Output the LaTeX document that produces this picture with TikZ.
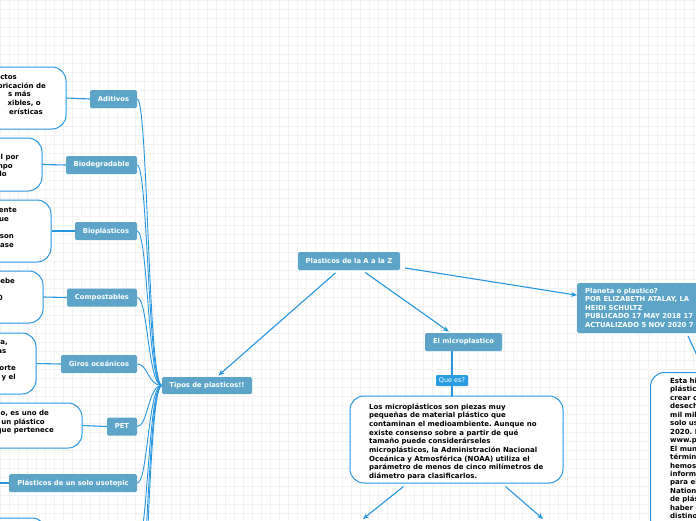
\documentclass[tikz,border=0pt]{standalone}
\usepackage{fontspec}
\setmainfont{DejaVu Sans}
\usetikzlibrary{arrows.meta}
\definecolor{MMBox}{HTML}{5DA5C8}
\definecolor{MMLine}{HTML}{2696E0}
\definecolor{MMTag}{HTML}{2A9DE2}
\definecolor{MMGrid}{HTML}{F2F2F2}
\frenchspacing
\begin{document}
\begin{tikzpicture}[x=1pt,y=-1pt,
  every node/.style={font=\bfseries\fontsize{7}{8.7}\selectfont},
  topic/.style={fill=MMBox,text=white,rounded corners=1.5pt,minimum height=18pt,inner sep=0pt,
    font=\bfseries\fontsize{6.8}{8.5}\selectfont},
  note/.style={draw=MMLine,line width=1pt,fill=white,rounded corners=14pt,inner sep=0pt},
  frag/.style={anchor=base east,inner sep=0pt},
  link/.style={MMLine,line width=1.1pt},
  arr/.style={link,-{Stealth[length=6pt,width=5pt]}},
  spine/.style={MMLine,line width=.9pt}]
\path[use as bounding box] (0,0) rectangle (696,520);
\clip (0,0) rectangle (696,520);
\fill[white] (0,0) rectangle (696,520);
\draw[MMGrid,step=9pt] (0,0) grid (696,520);
% main topics
\node[topic,minimum width=102pt] (root) at (349,261) {Plasticos de la A a la Z};
\node[topic,minimum width=90pt,minimum height=17pt] (tipos) at (207,385.5) {Tipos de plasticos!!};
\node[topic,minimum width=77pt] (micro) at (463.5,342) {El microplastico};
\node[topic,minimum width=190pt,minimum height=50pt,anchor=north west] (planeta) at (577,283) {};
\node[anchor=north west,inner sep=0pt,align=left,text=white,font=\bfseries\fontsize{6.8}{8.5}\selectfont] (planeta-t) at (585,288)
  {Planeta o plastico?\\POR ELIZABETH ATALAY, LA\\HEIDI SCHULTZ\\PUBLICADO 17 MAY 2018 17\\ACTUALIZADO 5 NOV 2020 7};
% microplastic note
\node[note,minimum width=213pt,minimum height=87pt] (mdesc) at (456.5,439.5) {};
\node[anchor=north west,inner sep=0pt,align=left] (mdesc-t) at (369,403.2)
  {Los microplásticos son piezas muy\\pequeñas de material plástico que\\contaminan el medioambiente. Aunque no\\existe consenso sobre a partir de qué\\tamaño puede considerárseles\\microplásticos, la Administración Nacional\\Oceánica y Atmosférica (NOAA) utiliza el\\parámetro de menos de cinco milímetros de\\diámetro para clasificarlos.};
\coordinate (qx) at (452,0);
\draw[link] (micro.south -| qx) -- (mdesc.north -| qx);
\node[fill=MMTag,text=white,rounded corners=1pt,inner sep=0pt,minimum width=32pt,minimum height=11pt,font=\fontsize{6.5}{8}\selectfont] (quees) at (452,380.5) {Que es?};
\coordinate (mleft) at (363,519);
\coordinate (mright) at (543,519);
\draw[arr] ([shift={(-53,3)}]mdesc.south) -- (mleft);
\draw[arr] ([shift={(49,3)}]mdesc.south) -- (mright);
% right note
\node[note,minimum width=120pt,minimum height=240pt,anchor=north west] (esta) at (650,372) {};
\node[anchor=north west,inner sep=0pt,align=left,font=\bfseries\fontsize{7}{8.45}\selectfont] (esta-t) at (670,378)
  {Esta hi\\plástic\\crear c\\desech\\mil mil\\solo us\\2020. I\\www.p\\El mun\\términ\\hemos\\inform\\para el\\Nation\\de plás\\haber c\\distino};
\coordinate (pl-out) at (688,336);
\coordinate (esta-in) at (700,362);
\draw[link] (pl-out) -- (esta-in);
% arrows from root
\draw[arr,shorten <=4pt,shorten >=2pt] (root) -- (tipos);
\draw[arr,shorten <=4pt,shorten >=2pt] (root) -- (micro);
\draw[arr] ([shift={(5,7)}]root.east) -- ([shift={(0,-13)}]planeta.west);
% categories
\node[topic,minimum width=47pt] (aditivos) at (113.5,99) {Aditivos};
\node[topic,minimum width=71pt] (biodeg) at (101.5,165) {Biodegradable};
\node[topic,minimum width=62pt] (biopl) at (106,231) {Bioplásticos};
\node[topic,minimum width=70pt] (compost) at (102,297.5) {Compostables};
\node[topic,minimum width=76pt] (giros) at (99,364) {Giros oceánicos};
\node[topic,minimum width=30pt] (pet) at (122,426.5) {PET};
\node[topic,minimum width=128pt] (unsolo) at (73,483) {Plásticos de un solo usotopic};
\coordinate (sx) at (148,0);
\coordinate (off1) at (137,545);
\coordinate (off2) at (137,600);
\coordinate (off3) at (137,650);
\foreach \c in {aditivos,biodeg,biopl,compost,giros,pet,unsolo,off1,off2,off3}
  \draw[spine] (\c.east) .. controls (\c.east -| sx) and (tipos.west -| sx) .. (tipos.west);
% category notes
\node[note,minimum width=146pt,minimum height=62pt] (aditivos-d) at (-7,98) {};
\node[note,minimum width=122pt,minimum height=53pt] (biodeg-d) at (-19,164.5) {};
\node[note,minimum width=131pt,minimum height=62pt] (biopl-d) at (-14.5,231) {};
\node[note,minimum width=123pt,minimum height=52pt] (compost-d) at (-18.5,297) {};
\node[note,minimum width=116pt,minimum height=61pt] (giros-d) at (-22,363.5) {};
\node[note,minimum width=162pt,minimum height=45pt] (pet-d) at (1,425.5) {};
\node[note,minimum width=126pt,minimum height=52pt] (bottom-d) at (-17,544) {};
\coordinate (unsolo-l) at (0,483);
\draw[link] (aditivos-d.east) -- (aditivos.west);
\draw[link] (biodeg-d.east) -- (biodeg.west);
\draw[link] (biopl-d.east) -- (biopl.west);
\draw[link] (compost-d.east) -- (compost.west);
\draw[link] (giros-d.east) -- (giros.west);
\draw[link] (pet-d.east) -- (pet.west);
\draw[link] (unsolo-l) -- (unsolo.west);
% visible ends of the note texts
\node[frag] (a1) at (17,79.5) {ctos};
\node[frag] (a2) at (46,88.2) {bricación de};
\node[frag] (a3) at (31,96.9) {s más};
\node[frag] (a4) at (41,105.6) {xibles, o};
\node[frag] (a5) at (43,114.3) {erísticas};
\node[frag] (b1) at (19,159.5) {al por};
\node[frag] (b2) at (13,168.1) {mpo};
\node[frag] (b3) at (7,176.7) {do};
\node[frag] (c1) at (17,212.5) {ente};
\node[frag] (c2) at (9,221.2) {ue};
\node[frag] (c3) at (14,238.6) {son};
\node[frag] (c4) at (14,247.3) {ase};
\node[frag] (d1) at (15,283.5) {lebe};
\node[frag] (d2) at (3,300.9) {0};
\node[frag] (e1) at (8,344.5) {ra,};
\node[frag] (e2) at (6.5,353.2) {as};
\node[frag] (e3) at (16,370.6) {orte};
\node[frag] (e4) at (16,379.3) {y el};
\node[frag] (f1) at (49,415.5) {o, es uno de};
\node[frag] (f2) at (45,424.2) {un plástico};
\node[frag] (f3) at (54,432.9) {que pertenece};
\end{tikzpicture}
\end{document}
